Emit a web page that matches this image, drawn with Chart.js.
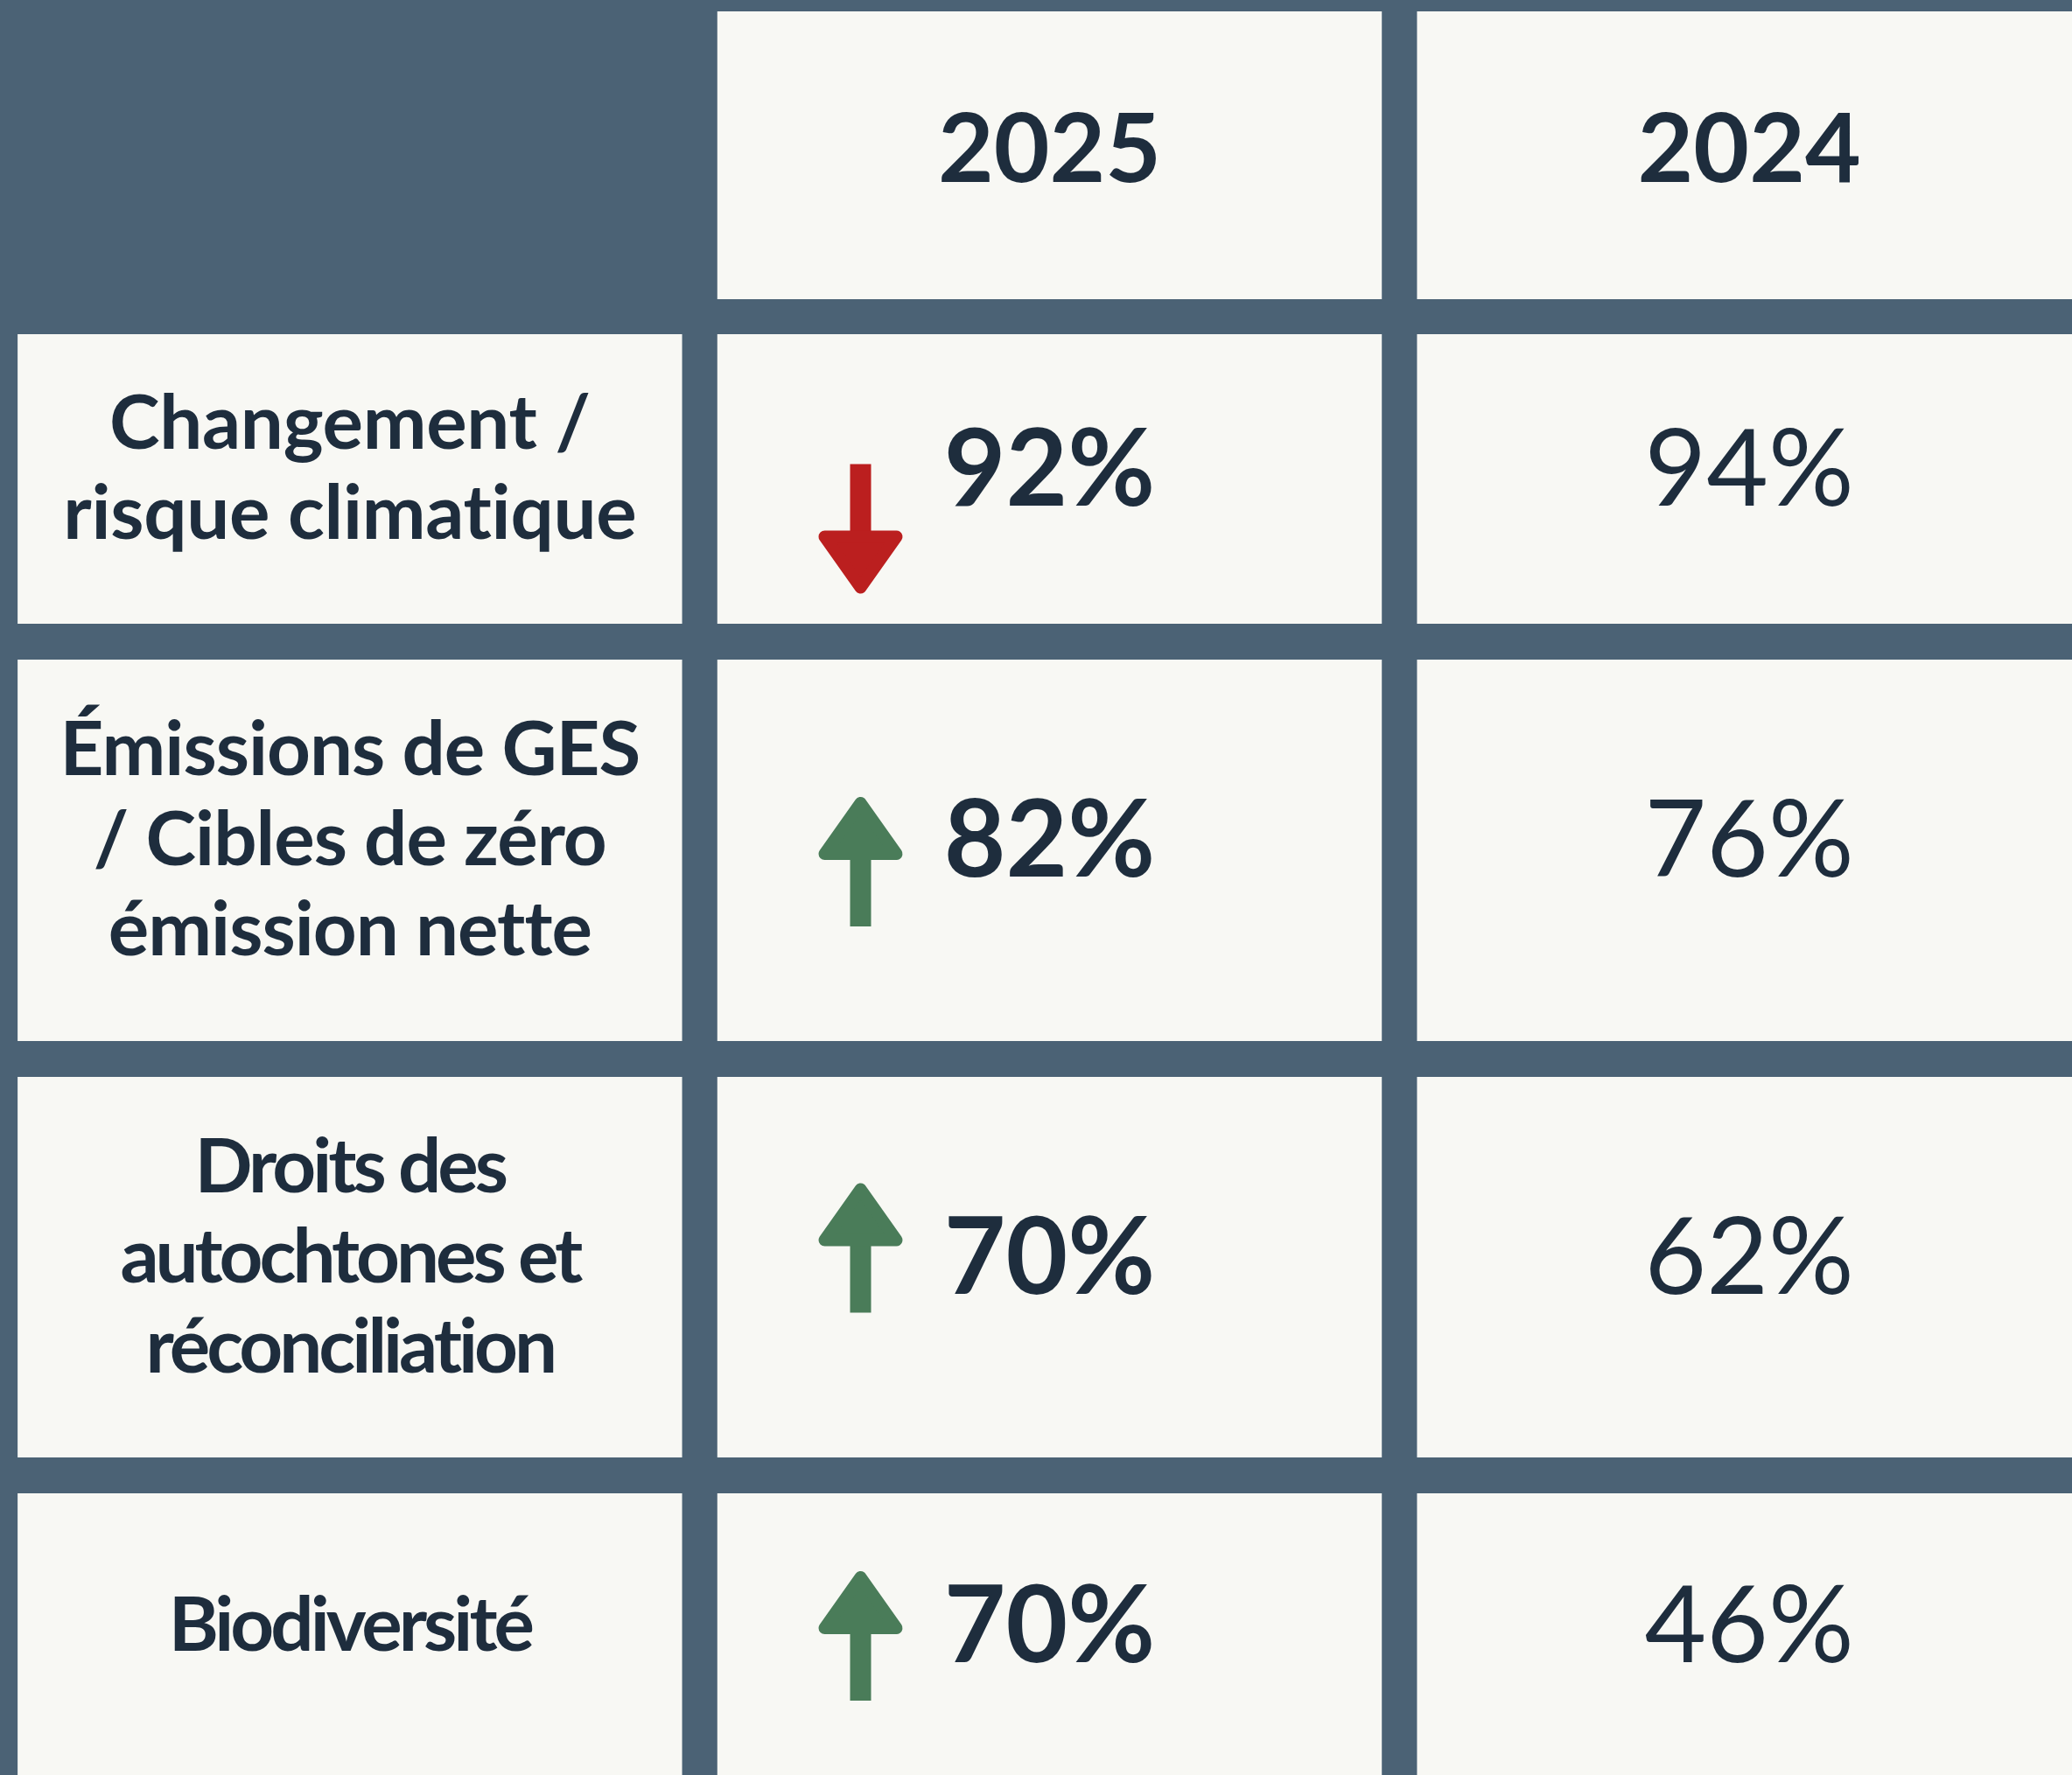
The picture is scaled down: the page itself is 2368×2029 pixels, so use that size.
<!DOCTYPE html>
<html>
<head>
<meta charset="utf-8">
<script src="https://cdn.jsdelivr.net/npm/chart.js@4.4.0/dist/chart.umd.min.js"></script>
<style>
  html, body { margin: 0; padding: 0; background: #4b6275; overflow: hidden; }
  #wrap { position: absolute; left: 0; top: 0; width: 2399px; height: 2029px; }
</style>
</head>
<body>
<div id="wrap"><canvas id="grid" width="2399" height="2029"></canvas></div>
<script>
// table content
const columns = ['', '2025', '2024'];
const topics = [
  ['Changement /', 'risque climatique'],
  ['Émissions de GES', '/ Cibles de zéro', 'émission nette'],
  ['Droits des', 'autochtones et', 'réconciliation'],
  ['Biodiversité']
];
const values2025 = [92, 82, 70, 70];
const values2024 = [94, 76, 62, 46];

// layout: row edges on the y scale, arrow top offset from row middle
const rowEdges = [[13, 342], [382, 713], [754, 1190], [1231, 1666], [1707, 2033]];
const arrowTop = [-17, -61, -96, -74];
const labelSpacing = ['-0.3px', '-1px', '-4px', '-4px'];

const INK = '#1e2d3d';
const CELL = '#f8f8f4';

// one dataset per table row, header row has no first cell
let datasets = rowEdges.map(function(edges, r) {
  return {
    data: columns.map((c, i) => (r === 0 && i === 0) ? null : edges),
    backgroundColor: CELL,
    borderWidth: 0,
    borderSkipped: false,
    grouped: false,
    categoryPercentage: 1,
    barPercentage: 0.9497
  };
});

function drawArrow(ctx, x, top, up, color) {
  let total = 148, head = 72;
  let hw = 48, sw = 12, r = 7;
  ctx.fillStyle = color;
  ctx.strokeStyle = color;
  ctx.lineJoin = 'round';
  ctx.lineWidth = 2 * r;
  ctx.beginPath();
  if (up) {
    ctx.fillRect(x - sw, top + head - 4, sw * 2, total - head + 4);
    ctx.moveTo(x, top + r);
    ctx.lineTo(x + hw - r, top + head - r);
    ctx.lineTo(x - hw + r, top + head - r);
  } else {
    ctx.fillRect(x - sw, top, sw * 2, total - head + 4);
    let hb = top + total;
    ctx.moveTo(x, hb - r);
    ctx.lineTo(x + hw - r, hb - head + r);
    ctx.lineTo(x - hw + r, hb - head + r);
  }
  ctx.closePath();
  ctx.fill();
  ctx.stroke();
}

const tableText = {
  id: 'tableText',
  afterDatasetsDraw(chart) {
    const ctx = chart.ctx;
    const cell = (r, c) => chart.getDatasetMeta(r).data[c];
    ctx.save();
    ctx.textAlign = 'center';
    ctx.textBaseline = 'alphabetic';
    ctx.fillStyle = INK;

    // years
    for (let c = 1; c < columns.length; c++) {
      let el = cell(0, c);
      let mid = (el.y + el.base) / 2;
      ctx.font = '700 110px Lato';
      ctx.fillText(columns[c], el.x, mid + 30);
    }

    topics.forEach(function(lines, i) {
      let r = i + 1;
      let el = cell(r, 0);
      let mid = (el.y + el.base) / 2;
      ctx.fillStyle = INK;
      ctx.font = '700 87px Lato';
      ctx.letterSpacing = labelSpacing[i];
      lines.forEach(function(line, k) {
        ctx.fillText(line, el.x, mid + 17 + (k - (lines.length - 1) / 2) * 103);
      });
      ctx.letterSpacing = '0px';

      let a = cell(r, 1);
      ctx.font = '700 122px Lato';
      ctx.fillText(values2025[i] + '%', a.x, mid + 30);

      let b = cell(r, 2);
      ctx.font = '400 122px Lato';
      ctx.fillText(values2024[i] + '%', b.x, mid + 30);

      let up = values2025[i] > values2024[i];
      ctx.save();
      drawArrow(ctx, a.x - 216, mid + arrowTop[i], up, up ? '#4a7c59' : '#bb1f1f');
      ctx.restore();
    });
    ctx.restore();
  }
};

new Chart(document.getElementById('grid'), {
  type: 'bar',
  data: { labels: columns, datasets: datasets },
  options: {
    responsive: false,
    animation: false,
    devicePixelRatio: 1,
    layout: { padding: 0 },
    plugins: { legend: { display: false }, tooltip: { enabled: false } },
    scales: {
      x: { type: 'category', offset: true, display: false },
      y: { type: 'linear', min: 0, max: 2029, reverse: true, display: false }
    }
  },
  plugins: [tableText]
});
</script>
</body>
</html>
